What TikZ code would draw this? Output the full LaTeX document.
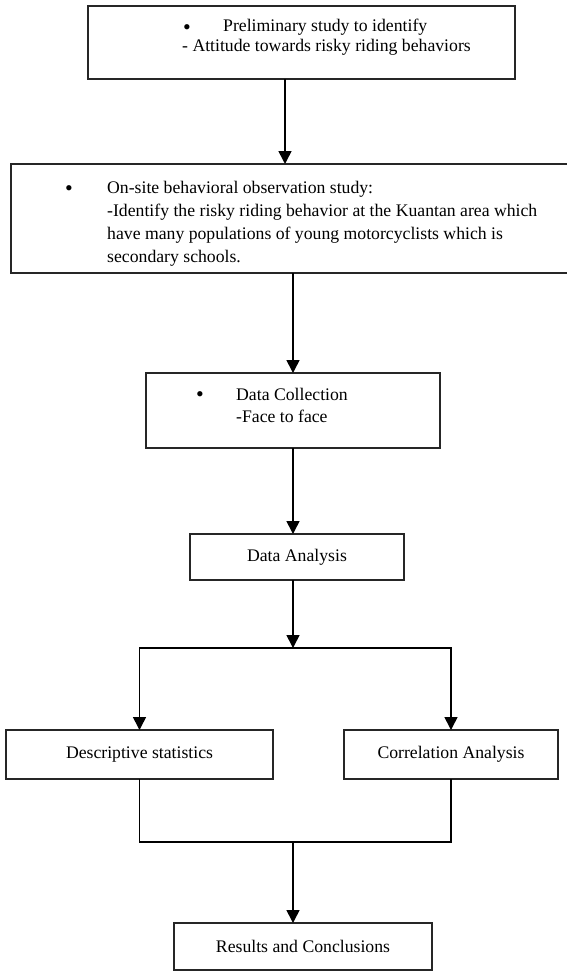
\documentclass[tikz,border=0pt]{standalone}
\usepackage{fontspec}
\setmainfont{Liberation Serif}
\usetikzlibrary{arrows.meta}

\tikzset{
  box/.style={draw=black!85, line width=1.6pt, inner sep=0pt, outer sep=0pt},
  arr/.style={line width=1.6pt, -{Triangle[length=13pt,width=13pt]}},
  txt/.style={anchor=base west, inner sep=0pt},
  dot/.style={inner sep=0pt, font=\fontsize{22}{22}\selectfont, text height=8pt, text depth=0pt},
}

\begin{document}
\begin{tikzpicture}[x=1pt,y=-1pt,font=\fontsize{17.7}{22}\selectfont]
\useasboundingbox (0,0) rectangle (567,972);

% boxes
\node[box,minimum width=427pt,minimum height=73pt] (prelim) at (301.5,42.5) {};
\node[box,minimum width=564pt,minimum height=109pt] (observe) at (293,218.5) {};
\node[box,minimum width=294pt,minimum height=75pt] (collect) at (293,410.5) {};
\node[box,minimum width=214pt,minimum height=46pt] (analysis) at (297,557) {Data Analysis};
\node[box,minimum width=267pt,minimum height=49pt] (descr) at (139.5,754.5) {Descriptive statistics};
\node[box,minimum width=214pt,minimum height=49pt] (corr) at (451,754.5) {Correlation Analysis};
\node[box,minimum width=258pt,minimum height=47pt] (result) at (303,946.5) {Results and Conclusions};

% texts in the upper boxes
\node[dot] (prelimDot) at (187,30) {\textbullet};
\node[txt] (prelimA) at (223,31) {Preliminary study to identify};
\node[txt] (prelimB) at (182,51) {- Attitude towards risky riding behaviors};

\node[dot] (observeDot) at (69,191) {\textbullet};
\node[txt] (observeA) at (107,193) {On-site behavioral observation study:};
\node[txt] (observeB) at (107,216) {-Identify the risky riding behavior at the Kuantan area which};
\node[txt] (observeC) at (107,239) {have many populations of young motorcyclists which is};
\node[txt] (observeD) at (107,262) {secondary schools.};

\node[dot] (collectDot) at (200,397) {\textbullet};
\node[txt] (collectA) at (236,400) {Data Collection};
\node[txt] (collectB) at (236,422) {-Face to face};

% flow
\coordinate (top) at (285,0);
\coordinate (split) at (293,648);
\coordinate (join) at (293,842);

\draw[arr] (prelim.south -| top) -- (observe.north -| top);
\draw[arr] (observe.south) -- (collect.north);
\draw[arr] (collect.south) -- (collect.south |- analysis.north);
\draw[arr] (analysis.south -| split) -- (split);
\draw[arr] (split) -| (descr.north);
\draw[arr] (split) -| (corr.north);
\draw[line width=1.6pt] (descr.south) |- (join) -| (corr.south);
\draw[arr] (join) -- (join |- result.north);

\end{tikzpicture}
\end{document}
